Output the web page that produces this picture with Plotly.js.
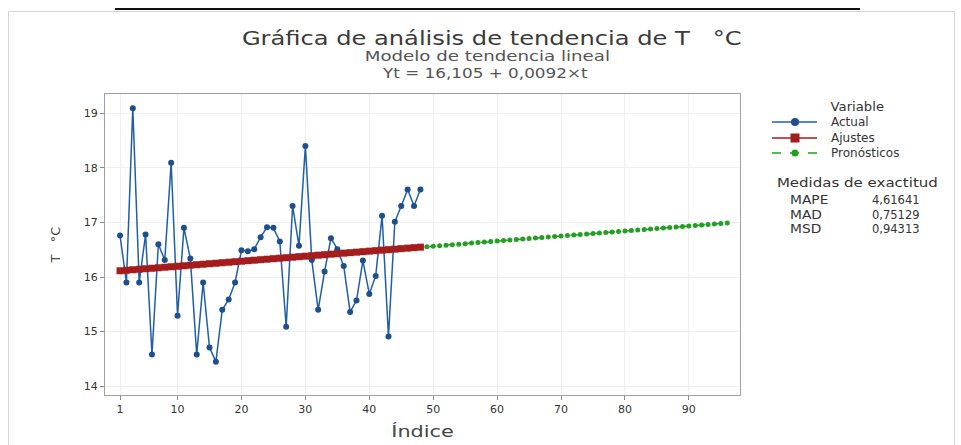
<!DOCTYPE html>
<html>
<head>
<meta charset="utf-8">
<script src="https://cdn.plot.ly/plotly-3.0.1.min.js"></script>
<style>
  html, body { margin: 0; padding: 0; background: #ffffff; }
  #wrap { position: relative; width: 961px; height: 445px; overflow: hidden; }
  #frame { position: absolute; left: 8px; top: 11px; width: 947px; height: 450px; border: 1px solid #d4d4d4; box-sizing: border-box; }
  #topline { position: absolute; left: 115px; top: 8px; width: 745px; height: 2px; background: #111; }
  #chart { position: absolute; left: 0; top: 0; width: 961px; height: 445px; }
</style>
</head>
<body>
<div id="wrap">
  <div id="frame"></div>
  <div id="topline"></div>
  <div id="chart"></div>
</div>
<script>
// ---- data ----
const indexActual = [1,2,3,4,5,6,7,8,9,10,11,12,13,14,15,16,17,18,19,20,21,22,23,24,25,26,27,28,29,30,31,32,33,34,35,36,37,38,39,40,41,42,43,44,45,46,47,48];
const actual = [16.76,15.90,19.09,15.90,16.78,14.58,16.60,16.31,18.09,15.29,
                16.90,16.34,14.58,15.90,14.71,14.45,15.40,15.59,15.90,16.49,
                16.47,16.51,16.73,16.91,16.90,16.65,15.09,17.30,16.57,18.40,
                16.31,15.40,16.10,16.71,16.51,16.20,15.36,15.57,16.30,15.69,
                16.02,17.12,14.91,17.01,17.30,17.60,17.30,17.60];
const fits = [16.1142,16.1234,16.1326,16.1418,16.1510,16.1602,16.1694,16.1786,16.1878,16.1970,
              16.2062,16.2154,16.2246,16.2338,16.2430,16.2522,16.2614,16.2706,16.2798,16.2890,
              16.2982,16.3074,16.3166,16.3258,16.3350,16.3442,16.3534,16.3626,16.3718,16.3810,
              16.3902,16.3994,16.4086,16.4178,16.4270,16.4362,16.4454,16.4546,16.4638,16.4730,
              16.4822,16.4914,16.5006,16.5098,16.5190,16.5282,16.5374,16.5466];
const indexForecast = [49,50,51,52,53,54,55,56,57,58,59,60,61,62,63,64,65,66,67,68,69,70,71,72,
                       73,74,75,76,77,78,79,80,81,82,83,84,85,86,87,88,89,90,91,92,93,94,95,96];
const forecasts = [16.5558,16.5650,16.5742,16.5834,16.5926,16.6018,16.6110,16.6202,16.6294,16.6386,
                   16.6478,16.6570,16.6662,16.6754,16.6846,16.6938,16.7030,16.7122,16.7214,16.7306,
                   16.7398,16.7490,16.7582,16.7674,16.7766,16.7858,16.7950,16.8042,16.8134,16.8226,
                   16.8318,16.8410,16.8502,16.8594,16.8686,16.8778,16.8870,16.8962,16.9054,16.9146,
                   16.9238,16.9330,16.9422,16.9514,16.9606,16.9698,16.9790,16.9882];
const seriesNames = ["Actual","Ajustes","Pronósticos"];
const xTicks = [1,10,20,30,40,50,60,70,80,90];
const yTicks = [14,15,16,17,18,19];
const accuracyLabels = ["MAPE","MAD","MSD"];
const accuracyValues = ["4,61641","0,75129","0,94313"];

const FONT = "DejaVu Sans, Verdana, sans-serif";
const blue = "#1f5fa8", blueMk = "#1d4f8f", red = "#a51c1c", green = "#22a022";
const styles = [
  { line: blue, mk: blueMk, dash: "solid", sym: "circle", size: 6 },
  { line: red, mk: red, dash: "solid", sym: "square", size: 7 },
  { line: green, mk: green, dash: "dash", sym: "circle", size: 5 }
];

const traces = [
  { x: indexActual, y: actual, name: seriesNames[0], type: "scatter", mode: "lines+markers",
    line: { color: styles[0].line, width: 1.5 },
    marker: { color: styles[0].mk, size: styles[0].size, symbol: styles[0].sym } },
  { x: indexActual, y: fits, name: seriesNames[1], type: "scatter", mode: "lines+markers",
    line: { color: styles[1].line, width: 1.5 },
    marker: { color: styles[1].mk, size: styles[1].size, symbol: styles[1].sym } },
  { x: indexForecast, y: forecasts, name: seriesNames[2], type: "scatter", mode: "lines+markers",
    line: { color: styles[2].line, width: 1.5, dash: "dash" },
    marker: { color: styles[2].mk, size: styles[2].size, symbol: styles[2].sym } }
];

// geometry helpers: pixel -> paper (plot area 105..740 x 94..395)
const PL = 105, PR = 740, PT = 94, PB = 395;
const px = v => (v - PL) / (PR - PL);
const py = v => (PB - v) / (PB - PT);

// annotation list; "stretch" = horizontal widening applied after render (reference text is wide)
const annSpecs = [
  { text: "Gráfica de análisis de tendencia de T   °C", x: 492, y: 38, size: 19, color: "#3a3a3a", anchor: "center", stretch: 1.27 },
  { text: "Modelo de tendencia lineal", x: 488, y: 56, size: 14, color: "#555", anchor: "center", stretch: 1.3 },
  { text: "Yt = 16,105 + 0,0092×t", x: 485, y: 73, size: 14, color: "#555", anchor: "center", stretch: 1.2 },
  { text: "Variable", x: 857, y: 107, size: 11.5, color: "#333", anchor: "center", stretch: 1.15 },
  { text: "Medidas de exactitud", x: 857, y: 183, size: 12, color: "#333", anchor: "center", stretch: 1.25 }
];
const legendY = [122, 138, 153];
seriesNames.forEach((nm, i) => annSpecs.push({ text: nm, x: 829, y: legendY[i], size: 12, color: "#333", anchor: "left", stretch: 1 }));
const accY = [200, 215, 229];
accuracyLabels.forEach((lab, i) => {
  annSpecs.push({ text: lab, x: 788, y: accY[i], size: 11.5, color: "#333", anchor: "left", stretch: 1.2 });
  annSpecs.push({ text: accuracyValues[i], x: 922, y: accY[i], size: 11.5, color: "#333", anchor: "right", stretch: 1 });
});
const annotations = annSpecs.map(a => ({
  text: a.text, xref: "paper", yref: "paper", x: px(a.x), y: py(a.y),
  xanchor: a.anchor, yanchor: "middle", align: a.anchor, showarrow: false,
  font: { family: FONT, size: a.size, color: a.color }
}));

const shapes = [];
seriesNames.forEach((nm, i) => {
  const st = styles[i];
  shapes.push({ type: "line", xref: "paper", yref: "paper", x0: px(772), x1: px(817), y0: py(legendY[i]), y1: py(legendY[i]),
    line: { color: st.line, width: 1.5, dash: st.dash } });
  shapes.push({ type: st.sym === "square" ? "rect" : "circle", xref: "paper", yref: "paper",
    xsizemode: "pixel", ysizemode: "pixel", xanchor: px(795), yanchor: py(legendY[i]),
    x0: -st.size / 2 - 1, x1: st.size / 2 + 1, y0: -st.size / 2 - 1, y1: st.size / 2 + 1,
    fillcolor: st.mk, line: { color: st.mk, width: 0 } });
});

const layout = {
  width: 961, height: 445,
  margin: { l: PL, r: 961 - PR, t: PT, b: 445 - PB },
  paper_bgcolor: "rgba(0,0,0,0)",
  plot_bgcolor: "#ffffff",
  font: { family: FONT, size: 11, color: "#333" },
  showlegend: false,
  xaxis: {
    range: [-1.35, 98], tickvals: xTicks, ticktext: xTicks.map(String),
    ticks: "outside", ticklen: 4, tickcolor: "#888",
    showgrid: true, gridcolor: "#efefef", zeroline: false,
    showline: true, linecolor: "#a0a0a0", mirror: true, linewidth: 1,
    tickfont: { family: FONT, size: 11, color: "#333" },
    title: { text: "Índice", font: { family: FONT, size: 16, color: "#444" }, standoff: 10 }
  },
  yaxis: {
    range: [13.84, 19.35], tickvals: yTicks, ticktext: yTicks.map(String),
    ticks: "outside", ticklen: 4, tickcolor: "#888",
    showgrid: true, gridcolor: "#efefef", zeroline: false,
    showline: true, linecolor: "#a0a0a0", mirror: true, linewidth: 1,
    tickfont: { family: FONT, size: 11, color: "#333" },
    title: { text: "T   °C", font: { family: FONT, size: 13, color: "#444" }, standoff: 20 }
  },
  annotations: annotations,
  shapes: shapes
};

function widen(el, f) {
  if (!el || f === 1) return;
  const w = el.getComputedTextLength();
  el.setAttribute("textLength", (w * f).toFixed(1));
  el.setAttribute("lengthAdjust", "spacingAndGlyphs");
}

Plotly.newPlot("chart", traces, layout, { displayModeBar: false, staticPlot: true }).then(gd => {
  const texts = gd.querySelectorAll(".annotation text.annotation-text");
  annSpecs.forEach((a, i) => {
    const el = texts[i];
    if (!el || a.stretch === 1) return;
    const before = el.getBBox();
    widen(el, a.stretch);
    const after = el.getBBox();
    // keep the requested anchor after widening
    let shift = 0;
    if (a.anchor === "center") shift = (before.x + before.width / 2) - (after.x + after.width / 2);
    else if (a.anchor === "left") shift = before.x - after.x;
    else shift = (before.x + before.width) - (after.x + after.width);
    if (Math.abs(shift) > 0.5) el.setAttribute("x", (parseFloat(el.getAttribute("x") || 0) + shift).toFixed(1));
  });
  widen(gd.querySelector(".xtitle"), 1.3);
});
</script>
</body>
</html>
